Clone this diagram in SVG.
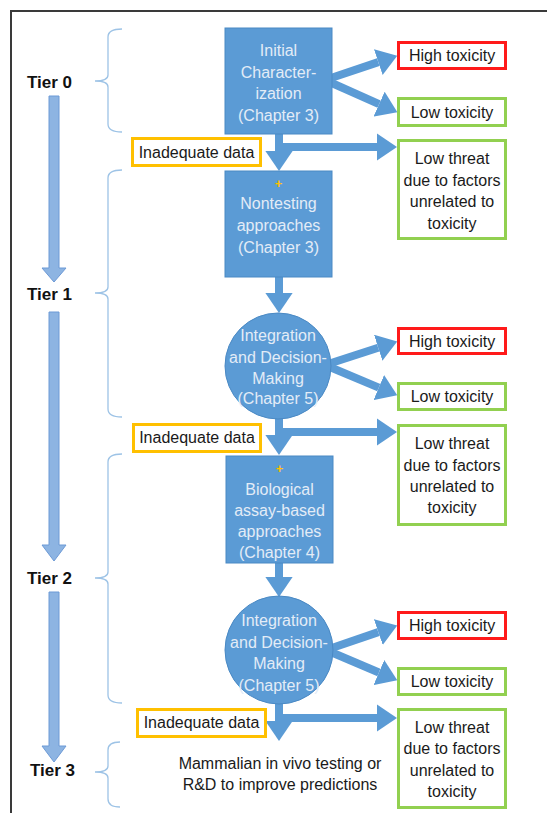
<svg xmlns="http://www.w3.org/2000/svg" width="547" height="813" viewBox="0 0 547 813">
<style>
.bx{fill:#5b9bd5;stroke:#4a89c4;stroke-width:1}
.bt{font-family:"Liberation Sans",Arial,sans-serif;font-size:16px;fill:#e3ecf7;text-anchor:middle}
.dt{font-family:"Liberation Sans",Arial,sans-serif;font-size:16px;fill:#1a1a1a;text-anchor:middle}
.tl{font-family:"Liberation Sans",Arial,sans-serif;font-size:17px;font-weight:bold;fill:#111}
.plus{font-family:"Liberation Sans",Arial,sans-serif;font-size:13px;fill:#ffc000;text-anchor:middle;font-weight:bold}
.red{fill:#fff;stroke:#ff1a1a;stroke-width:3}
.grn{fill:#fff;stroke:#92d050;stroke-width:3}
.org{fill:#fff;stroke:#ffc000;stroke-width:3}
.br{fill:none;stroke:#9dc3e6;stroke-width:1.3}
.ta{fill:#8db4e2;stroke:#6d9ad6;stroke-width:1}
.cn{stroke:#5b9bd5;stroke-width:8;fill:none;marker-end:url(#ah)}
</style>
<defs>
<marker id="ah" viewBox="0 0 10 10" refX="0" refY="5" markerWidth="2.5" markerHeight="3.4" orient="auto" markerUnits="strokeWidth" preserveAspectRatio="none">
<path d="M0,0 L10,5 L0,10 z" fill="#5b9bd5"/>
</marker>
</defs>
<rect width="547" height="813" fill="#fff"/>
<g id="frame"><path d="M11,813 L11,11 L547,11" fill="none" stroke="#3a3a3a" stroke-width="2"/></g>

<g id="tiers">
<text class="tl" x="27" y="88">Tier 0</text>
<text class="tl" x="27" y="300">Tier 1</text>
<text class="tl" x="27" y="584">Tier 2</text>
<text class="tl" x="30" y="776">Tier 3</text>
<polygon class="ta" points="49,96 59,96 59,268 66,268 54,282 42,268 49,268"/>
<polygon class="ta" points="49,312 59,312 59,545 66,545 54,561 42,545 49,545"/>
<polygon class="ta" points="49,592 59,592 59,746 66,746 54,762 42,746 49,746"/>
<path class="br" d="M122,29 Q108,29 108,37 L108,75 Q108,81 95,81 Q108,81 108,87 L108,124 Q108,132 122,132"/>
<path class="br" d="M122,170 Q108,170 108,178 L108,287 Q108,293 95,293 Q108,293 108,299 L108,409 Q108,417 122,417"/>
<path class="br" d="M122,454 Q108,454 108,462 L108,572 Q108,578 95,578 Q108,578 108,584 L108,695 Q108,703 122,703"/>
<path class="br" d="M120,742 Q108,742 108,750 L108,766 Q108,772 95,772 Q108,772 108,778 L108,799 Q108,807 120,807"/>
</g>

<g id="connectors">
<line class="cn" x1="325" y1="80" x2="378.3" y2="62.1"/>
<line class="cn" x1="325" y1="80" x2="379.1" y2="104.1"/>
<line class="cn" x1="279" y1="133" x2="279" y2="151"/>
<line class="cn" x1="275" y1="147" x2="377" y2="147"/>
<line class="cn" x1="279" y1="276" x2="279" y2="293"/>
<line class="cn" x1="325" y1="365" x2="378.2" y2="347.7"/>
<line class="cn" x1="325" y1="365" x2="378.8" y2="387.6"/>
<line class="cn" x1="279" y1="416" x2="279" y2="435"/>
<line class="cn" x1="275" y1="432" x2="377" y2="432"/>
<line class="cn" x1="279" y1="562" x2="279" y2="577"/>
<line class="cn" x1="326" y1="650" x2="378.3" y2="632.1"/>
<line class="cn" x1="326" y1="650" x2="378.9" y2="672.5"/>
<line class="cn" x1="279" y1="702" x2="279" y2="721"/>
<line class="cn" x1="275" y1="718" x2="377" y2="718"/>
</g>

<g id="initial">
<rect class="bx" x="225" y="28" width="107" height="106"/>
<text class="bt" x="278.5" y="56">Initial</text>
<text class="bt" x="278.5" y="78">Character-</text>
<text class="bt" x="278.5" y="99">ization</text>
<text class="bt" x="278.5" y="121">(Chapter 3)</text>
</g>
<g id="nontesting">
<rect class="bx" x="225" y="171" width="107" height="106"/>
<text class="plus" x="278.5" y="188">+</text>
<text class="bt" x="278.5" y="209">Nontesting</text>
<text class="bt" x="278.5" y="231">approaches</text>
<text class="bt" x="278.5" y="253">(Chapter 3)</text>
</g>
<g id="integration1">
<circle class="bx" cx="278" cy="366" r="53"/>
<text class="bt" x="278" y="341">Integration</text>
<text class="bt" x="278" y="363">and Decision-</text>
<text class="bt" x="278" y="384">Making</text>
<text class="bt" x="278" y="404">(Chapter 5)</text>
</g>
<g id="biological">
<rect class="bx" x="226" y="456" width="107" height="107"/>
<text class="plus" x="279.5" y="473">+</text>
<text class="bt" x="279.5" y="495">Biological</text>
<text class="bt" x="279.5" y="516">assay-based</text>
<text class="bt" x="279.5" y="537">approaches</text>
<text class="bt" x="279.5" y="558">(Chapter 4)</text>
</g>
<g id="integration2">
<circle class="bx" cx="279" cy="650" r="54"/>
<text class="bt" x="279" y="626">Integration</text>
<text class="bt" x="279" y="648">and Decision-</text>
<text class="bt" x="279" y="669">Making</text>
<text class="bt" x="279" y="691">(Chapter 5)</text>
</g>
<g id="mammalian">
<text class="dt" x="280" y="769">Mammalian in vivo testing or</text>
<text class="dt" x="280" y="790">R&amp;D to improve predictions</text>
</g>

<g id="high1"><rect class="red" x="398.5" y="42.5" width="107" height="26"/><text class="dt" x="452" y="61">High toxicity</text></g>
<g id="low1"><rect class="grn" x="398.5" y="98.5" width="107" height="27"/><text class="dt" x="452" y="118">Low toxicity</text></g>
<g id="threat1"><rect class="grn" x="398.5" y="140.5" width="107" height="98"/>
<text class="dt" x="452" y="164">Low threat</text><text class="dt" x="452" y="185.5">due to factors</text><text class="dt" x="452" y="207">unrelated to</text><text class="dt" x="452" y="228.5">toxicity</text></g>
<g id="inad1"><rect class="org" x="132.5" y="138.5" width="128" height="27"/><text class="dt" x="196.5" y="158">Inadequate data</text></g>

<g id="high2"><rect class="red" x="398.5" y="328.5" width="107" height="25"/><text class="dt" x="452" y="347">High toxicity</text></g>
<g id="low2"><rect class="grn" x="398.5" y="383.5" width="107" height="26"/><text class="dt" x="452" y="402">Low toxicity</text></g>
<g id="threat2"><rect class="grn" x="398.5" y="425.5" width="107" height="99"/>
<text class="dt" x="452" y="449">Low threat</text><text class="dt" x="452" y="471">due to factors</text><text class="dt" x="452" y="492">unrelated to</text><text class="dt" x="452" y="513">toxicity</text></g>
<g id="inad2"><rect class="org" x="133.5" y="424.5" width="127" height="27"/><text class="dt" x="197" y="443">Inadequate data</text></g>

<g id="high3"><rect class="red" x="398.5" y="612.5" width="107" height="26"/><text class="dt" x="452" y="631">High toxicity</text></g>
<g id="low3"><rect class="grn" x="398.5" y="668.5" width="107" height="26"/><text class="dt" x="452" y="687">Low toxicity</text></g>
<g id="threat3"><rect class="grn" x="398.5" y="709.5" width="107" height="98"/>
<text class="dt" x="452" y="733">Low threat</text><text class="dt" x="452" y="754">due to factors</text><text class="dt" x="452" y="776">unrelated to</text><text class="dt" x="452" y="797">toxicity</text></g>
<g id="inad3"><rect class="org" x="137.5" y="709.5" width="128" height="27"/><text class="dt" x="201.5" y="728">Inadequate data</text></g>
</svg>
